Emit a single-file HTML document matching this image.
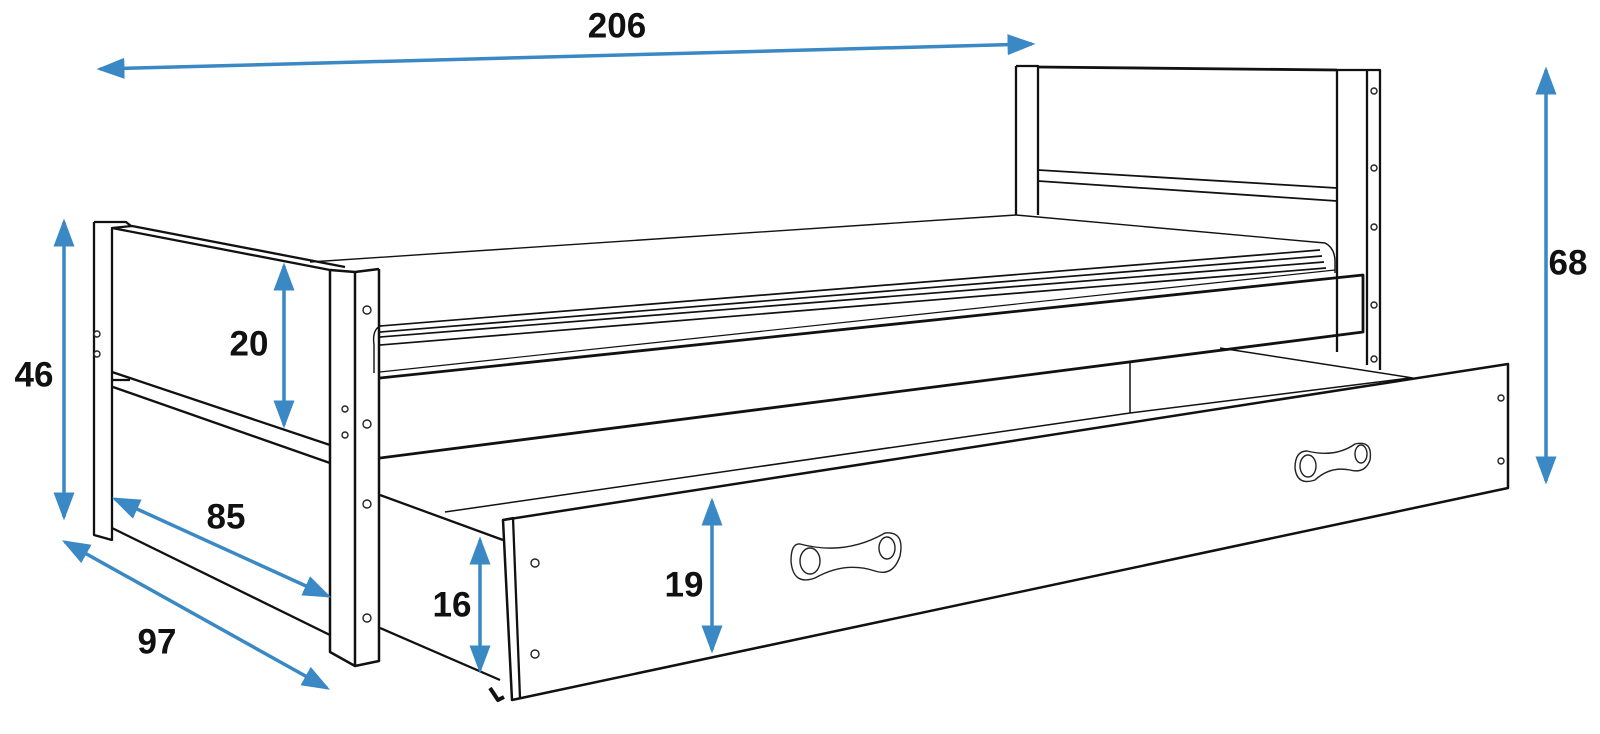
<!DOCTYPE html>
<html><head><meta charset="utf-8"><style>
html,body{margin:0;padding:0;background:#fff;}
svg{display:block}
text{font-family:"Liberation Sans",sans-serif;font-weight:bold;font-size:35px;fill:#111;text-anchor:middle;dominant-baseline:central}
</style></head><body>
<svg width="1600" height="734" viewBox="0 0 1600 734" xmlns="http://www.w3.org/2000/svg">
<defs>
<marker id="a" markerWidth="8" markerHeight="6" refX="7" refY="3" orient="auto-start-reverse" markerUnits="strokeWidth">
<path d="M0,0 L8,3 L0,6 Z" fill="#3a88c4"/></marker>
</defs>
<g fill="none" stroke="#111" stroke-width="2.3" stroke-linejoin="round">
<!-- headboard -->
<path d="M1016,66 H1038 V215 M1016,66 V215"/>
<path d="M1038,67 L1337,70" stroke-width="2.8"/>
<path d="M1337,70 H1380 V370 M1337,70 V352 M1367,70 V365"/>
<path d="M1038,170 L1337,188 M1038,181 L1337,201" stroke-width="1.8"/>
<!-- mattress -->
<path d="M310,262 L1016,215 L1325,243 Q1335,248 1335,262 V273" stroke-width="1.4"/>
<path d="M380,326 L1320,250 M380,332 L1322,256 M380,337 L1324,262 M380,345 L1326,268" stroke-width="1.7"/>
<path d="M380,326 Q372,330 374,345 V373" stroke-width="1.4"/>
<!-- side rail -->
<path d="M380,378 L1363,275 V332 L380,458" stroke-width="2.8"/>
<path d="M380,372 L1335,270" stroke-width="1.2"/>
<!-- foot end -->
<path d="M94,222 H126 L131,226 M94,222 V535 L112,540 V228 L330,270 M112,228 L132,226 L345,267"/>
<path d="M112,372 L330,445 M113,387 L330,463 M112,380 H130"/>
<path d="M112,528 L330,635"/>
<path d="M330,270 L355,272 L379,269 M330,270 V652 L355,666 L379,661 V269 M355,272 V666" stroke-width="2.5"/>
<!-- drawer -->
<path d="M380,495 L503,540 M380,628 L500,680"/>
<path d="M445,512 L1130,413 L1410,378 M1130,362 V413 M1220,348 L1413,378" stroke-width="1.5"/>
<path d="M503,520 L1508,364 V488 L512,700 Z" stroke-width="2.5"/>
<path d="M503,520 L513,518 L520,698"/>
<path d="M490,688 l8,12 l6,-3" stroke-width="4"/>
</g>
<!-- handles -->
<g fill="none" stroke="#222" stroke-width="1.4">
<g transform="translate(15,11)">
<path d="M785,533 Q830,545 870,522 Q890,520 885,545 Q878,566 860,560 Q830,550 800,567 Q778,575 776,550 Q776,532 785,533Z"/>
<ellipse cx="795" cy="550" rx="10" ry="13"/><ellipse cx="872" cy="537" rx="8" ry="11"/>
</g>
<g transform="translate(25,8)">
<path d="M1282,443 Q1310,450 1330,436 Q1348,432 1345,452 Q1340,466 1325,462 Q1305,458 1290,472 Q1272,478 1270,460 Q1270,443 1282,443Z"/>
<ellipse cx="1283" cy="458" rx="8" ry="11"/><ellipse cx="1336" cy="446" rx="6" ry="9"/>
</g>
</g>
<!-- screws -->
<g fill="#fff" stroke="#222" stroke-width="1.4">
<circle cx="367" cy="310" r="4"/><circle cx="367" cy="424" r="4"/><circle cx="367" cy="504" r="4"/><circle cx="367" cy="618" r="4"/>
<circle cx="97" cy="334" r="3"/><circle cx="97" cy="354" r="3"/>
<circle cx="345" cy="409" r="3"/><circle cx="345" cy="435" r="3"/>
<circle cx="1374" cy="91" r="3"/><circle cx="1374" cy="168" r="3"/><circle cx="1374" cy="227" r="3"/><circle cx="1374" cy="305" r="3"/><circle cx="1374" cy="359" r="3"/>
<circle cx="535" cy="563" r="4"/><circle cx="535" cy="654" r="4"/><circle cx="1501" cy="398" r="3"/><circle cx="1501" cy="461" r="3"/>
</g>
<!-- dimension arrows -->
<g stroke="#3a88c4" stroke-width="3.5" fill="none">
<line x1="100" y1="69" x2="1032" y2="44" marker-start="url(#a)" marker-end="url(#a)"/>
<line x1="1546" y1="70" x2="1546" y2="481" marker-start="url(#a)" marker-end="url(#a)"/>
<line x1="64" y1="222" x2="64" y2="517" marker-start="url(#a)" marker-end="url(#a)"/>
<line x1="284" y1="266" x2="284" y2="425" marker-start="url(#a)" marker-end="url(#a)"/>
<line x1="115" y1="499" x2="328" y2="596" marker-start="url(#a)" marker-end="url(#a)"/>
<line x1="65" y1="542" x2="327" y2="688" marker-start="url(#a)" marker-end="url(#a)"/>
<line x1="480" y1="540" x2="480" y2="670" marker-start="url(#a)" marker-end="url(#a)"/>
<line x1="712" y1="501" x2="712" y2="650" marker-start="url(#a)" marker-end="url(#a)"/>
</g>
<text x="617" y="26">206</text>
<text x="1568" y="263">68</text>
<text x="34" y="375">46</text>
<text x="249" y="344">20</text>
<text x="226" y="517">85</text>
<text x="157" y="642">97</text>
<text x="452" y="605">16</text>
<text x="684" y="585">19</text>
</svg>
</body></html>
